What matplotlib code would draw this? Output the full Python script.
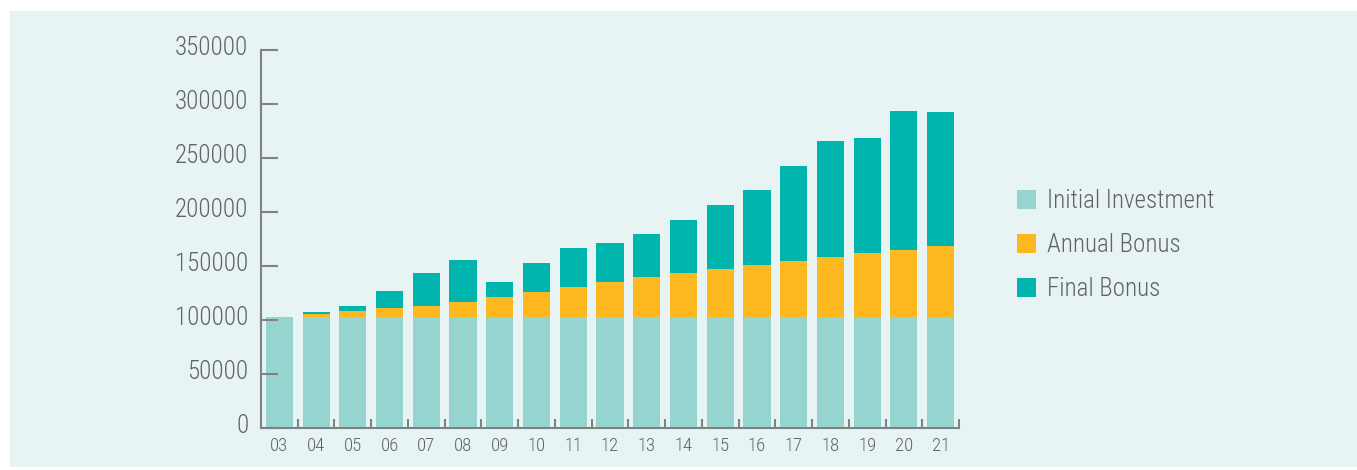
import matplotlib
matplotlib.use("Agg")
import matplotlib.pyplot as plt
from matplotlib.patches import Rectangle
from matplotlib.transforms import ScaledTranslation
import numpy as np

# policy years and the three parts of each payout
years = ["03", "04", "05", "06", "07", "08", "09", "10", "11", "12",
         "13", "14", "15", "16", "17", "18", "19", "20", "21"]
initial = [102500] * 19
annual = [0, 3000, 5900, 8600, 10500, 14200, 18800, 23400, 28100, 32700,
          37300, 41000, 44700, 48400, 52100, 55800, 59500, 62300, 66000]
final = [0, 1900, 4600, 15700, 30600, 38900, 13900, 26900, 36100, 36100,
         39800, 49100, 59300, 69400, 88000, 107400, 106500, 128700, 124100]
y_ticks = [0, 50000, 100000, 150000, 200000, 250000, 300000, 350000]

c_initial = "#96d4d0"
c_annual = "#fdb820"
c_final = "#00b5ad"
bg = "#e8f4f4"
txt = "#5e6368"
axc = "#7d8286"

plt.rcParams["font.family"] = ["Liberation Sans Narrow", "Roboto Condensed",
                               "Noto Sans Condensed", "Open Sans Condensed",
                               "DejaVu Sans Condensed", "Noto Sans", "DejaVu Sans"]
plt.rcParams["font.stretch"] = "condensed"
plt.rcParams["font.weight"] = "light"

fig = plt.figure(figsize=(13.57, 4.70), dpi=100, facecolor="white")
fig.patches.append(Rectangle((10 / 1357, 3 / 470), 1 - 10 / 1357, 456 / 470,
                             transform=fig.transFigure, facecolor=bg,
                             edgecolor="none", zorder=-1))

ax = fig.add_axes([261 / 1357, 42 / 470, 698 / 1357, 378 / 470])
ax.set_facecolor("none")

x = np.arange(len(years))
w = 0.74
ax.bar(x, initial, w, color=c_initial, label="Initial Investment")
ax.bar(x, annual, w, bottom=initial, color=c_annual, label="Annual Bonus")
ax.bar(x, final, w, bottom=np.add(initial, annual), color=c_final,
       label="Final Bonus")

ax.set_xlim(-0.5, len(years) - 0.5)
ax.set_ylim(0, 350000)

for s in ["top", "right"]:
    ax.spines[s].set_visible(False)
for s in ["left", "bottom"]:
    ax.spines[s].set_color(axc)
    ax.spines[s].set_linewidth(1.5)

ax.set_yticks(y_ticks)
ax.set_yticklabels([str(v) for v in y_ticks])
ax.tick_params(axis="y", direction="in", length=12, width=1.5, color=axc,
               labelsize=18, labelcolor=txt, pad=9)
# y labels sit a little above their ticks
lift = ScaledTranslation(0, 3.2 / 72, fig.dpi_scale_trans)
for lab in ax.get_yticklabels():
    lab.set_transform(lab.get_transform() + lift)

ax.set_xticks(x)
ax.set_xticklabels(years)
ax.tick_params(axis="x", which="major", length=0, labelsize=13.5,
               labelcolor=txt, pad=6.5)
ax.set_xticks(np.arange(len(years)) + 0.5, minor=True)
ax.tick_params(axis="x", which="minor", direction="in", length=6.5,
               width=1.5, color=axc)

fig.legend(loc="center left", bbox_to_anchor=(1017 / 1357, 225 / 470),
           bbox_transform=fig.transFigure, frameon=False, fontsize=18,
           labelcolor=txt, handlelength=0.76, handleheight=0.76,
           handletextpad=0.45, labelspacing=0.8, borderpad=0,
           borderaxespad=0)

fig.savefig("out.png", dpi=100, facecolor="white")
